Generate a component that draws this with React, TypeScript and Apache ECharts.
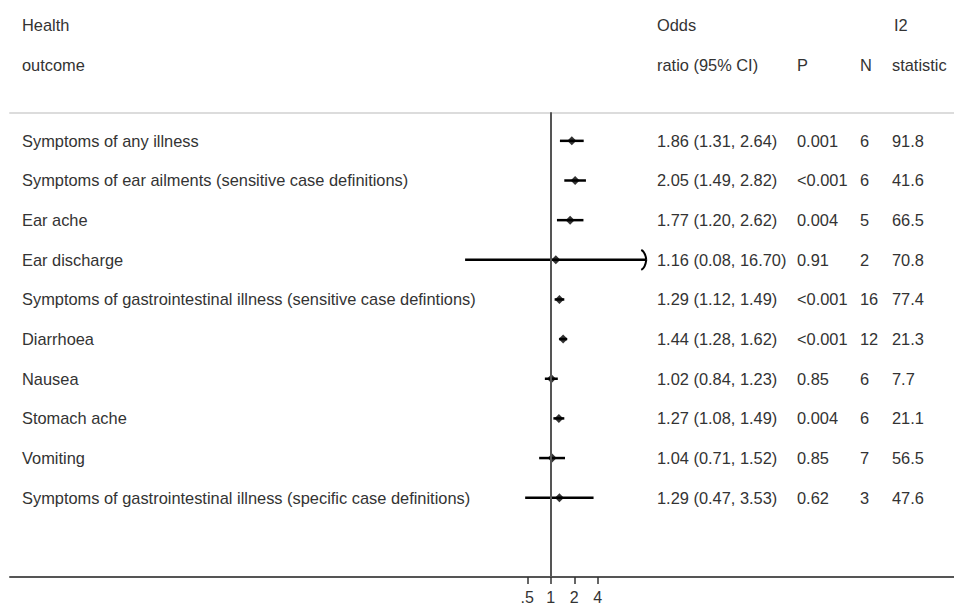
import React, { useEffect, useRef } from "react";
import * as echarts from "echarts";

const outcomes = [
  "Symptoms of any illness",
  "Symptoms of ear ailments (sensitive case definitions)",
  "Ear ache",
  "Ear discharge",
  "Symptoms of gastrointestinal illness (sensitive case defintions)",
  "Diarrhoea",
  "Nausea",
  "Stomach ache",
  "Vomiting",
  "Symptoms of gastrointestinal illness (specific case definitions)",
];
const oddsRatio = [1.86, 2.05, 1.77, 1.16, 1.29, 1.44, 1.02, 1.27, 1.04, 1.29];
const ciLow = [1.31, 1.49, 1.2, 0.08, 1.12, 1.28, 0.84, 1.08, 0.71, 0.47];
const ciHigh = [2.64, 2.82, 2.62, 16.7, 1.49, 1.62, 1.23, 1.49, 1.52, 3.53];
const orText = [
  "1.86 (1.31, 2.64)",
  "2.05 (1.49, 2.82)",
  "1.77 (1.20, 2.62)",
  "1.16 (0.08, 16.70)",
  "1.29 (1.12, 1.49)",
  "1.44 (1.28, 1.62)",
  "1.02 (0.84, 1.23)",
  "1.27 (1.08, 1.49)",
  "1.04 (0.71, 1.52)",
  "1.29 (0.47, 3.53)",
];
const pValues = ["0.001", "<0.001", "0.004", "0.91", "<0.001", "<0.001", "0.85", "0.004", "0.85", "0.62"];
const nStudies = ["6", "6", "5", "2", "16", "12", "6", "6", "7", "3"];
const i2Stat = ["91.8", "41.6", "66.5", "70.8", "77.4", "21.3", "7.7", "21.1", "56.5", "47.6"];
const tickValues = [0.5, 1, 2, 4];
const ARROW_ABOVE = 8;

const FONT = '16.4px "Liberation Sans", Arial, Helvetica, sans-serif';
const TEXT_COLOR = "#333";
const X_MIN = Math.pow(2, -23);
const X_MAX = Math.pow(2, 17.15);
const ROW0 = 3;

export default function App() {
  const ref = useRef<HTMLDivElement>(null);
  useEffect(() => {
    if (!ref.current) return;
    const chart = echarts.init(ref.current, null, { renderer: "svg" });
    const rows = outcomes.map((_, i) => i + ROW0);
    chart.setOption({
      animation: false,
      grid: { left: 10, right: 0, top: 112.3, bottom: 27.3, containLabel: false },
      xAxis: [
        {
          type: "log",
          logBase: 2,
          min: X_MIN,
          max: X_MAX,
          position: "bottom",
          axisLine: { show: true, lineStyle: { color: "#555", width: 2 } },
          axisTick: {
            show: true,
            customValues: tickValues,
            length: 7,
            lineStyle: { color: "#333", width: 1.5 },
          },
          axisLabel: {
            show: true,
            customValues: tickValues,
            margin: 12,
            color: TEXT_COLOR,
            fontSize: 16,
            fontFamily: '"Liberation Sans", Arial, sans-serif',
            formatter: (v: number) => (v === 0.5 ? ".5" : String(Math.round(v))),
          },
          splitLine: { show: false },
          minorTick: { show: false },
        },
        {
          type: "log",
          logBase: 2,
          min: X_MIN,
          max: X_MAX,
          position: "top",
          axisLine: { show: true, lineStyle: { color: "#dcdcdc", width: 2 } },
          axisTick: { show: false },
          axisLabel: { show: false },
          splitLine: { show: false },
        },
      ],
      yAxis: {
        type: "value",
        inverse: true,
        min: 2.28,
        max: 14,
        show: false,
        splitLine: { show: false },
      },
      series: [
        {
          type: "scatter",
          data: [],
          z: 1,
          markLine: {
            silent: true,
            symbol: ["none", "none"],
            label: { show: false },
            lineStyle: { color: "#555", width: 2, type: "solid" },
            data: [{ xAxis: 1 }],
          },
        },
        {
          type: "custom",
          z: 2,
          data: outcomes.map((_, i) => [ciLow[i], ciHigh[i], rows[i]]),
          renderItem: (params: any, api: any) => {
            const lo = api.value(0);
            const hi = api.value(1);
            const r = api.value(2);
            const p1 = api.coord([lo, r]);
            const p2 = api.coord([hi, r]);
            const children: any[] = [
              {
                type: "line",
                shape: { x1: p1[0], y1: p1[1], x2: p2[0], y2: p2[1] },
                style: { stroke: "#000", lineWidth: 2.5 },
              },
            ];
            if (hi > ARROW_ABOVE) {
              const x = p2[0];
              const y = p2[1];
              children.push({
                type: "bezierCurve",
                shape: { x1: x - 5, y1: y - 10, cpx1: x - 1, cpy1: y - 8, x2: x, y2: y },
                style: { stroke: "#000", lineWidth: 2, fill: "none" },
              });
              children.push({
                type: "bezierCurve",
                shape: { x1: x - 5, y1: y + 10, cpx1: x - 1, cpy1: y + 8, x2: x, y2: y },
                style: { stroke: "#000", lineWidth: 2, fill: "none" },
              });
            }
            return { type: "group", children };
          },
        },
        {
          type: "scatter",
          z: 3,
          symbol: "diamond",
          symbolSize: 9,
          itemStyle: { color: "#000" },
          data: outcomes.map((_, i) => [oddsRatio[i], rows[i]]),
        },
      ],
    });

    const mk = (text: string, x: number, y: number) => ({
      type: "text",
      x,
      y,
      silent: true,
      style: {
        text,
        fill: TEXT_COLOR,
        font: FONT,
        align: "left",
        verticalAlign: "middle",
        textAlign: "left",
        textVerticalAlign: "middle",
      },
    });
    const colOutcome = 22;
    const colOR = 657;
    const colP = 797;
    const colN = 860;
    const colI2 = 892;
    const h1 = 24.5;
    const h2 = 65;
    const els: any[] = [
      mk("Health", colOutcome, h1),
      mk("outcome", colOutcome, h2),
      mk("Odds", colOR, h1),
      mk("ratio (95% CI)", colOR, h2),
      mk("P", colP, h2),
      mk("N", colN, h2),
      mk("I2", colI2 + 2, h1),
      mk("statistic", colI2, h2),
    ];
    outcomes.forEach((name, i) => {
      const y = chart.convertToPixel({ yAxisIndex: 0 }, rows[i]) as number;
      els.push(mk(name, colOutcome, y));
      els.push(mk(orText[i], colOR, y));
      els.push(mk(pValues[i], colP, y));
      els.push(mk(nStudies[i], colN, y));
      els.push(mk(i2Stat[i], colI2, y));
    });
    chart.setOption({ graphic: els });

    return () => chart.dispose();
  }, []);
  return (
    <div
      ref={ref}
      style={{ position: "fixed", left: 0, top: 0, width: 954, height: 605, background: "#fff" }}
    />
  );
}
